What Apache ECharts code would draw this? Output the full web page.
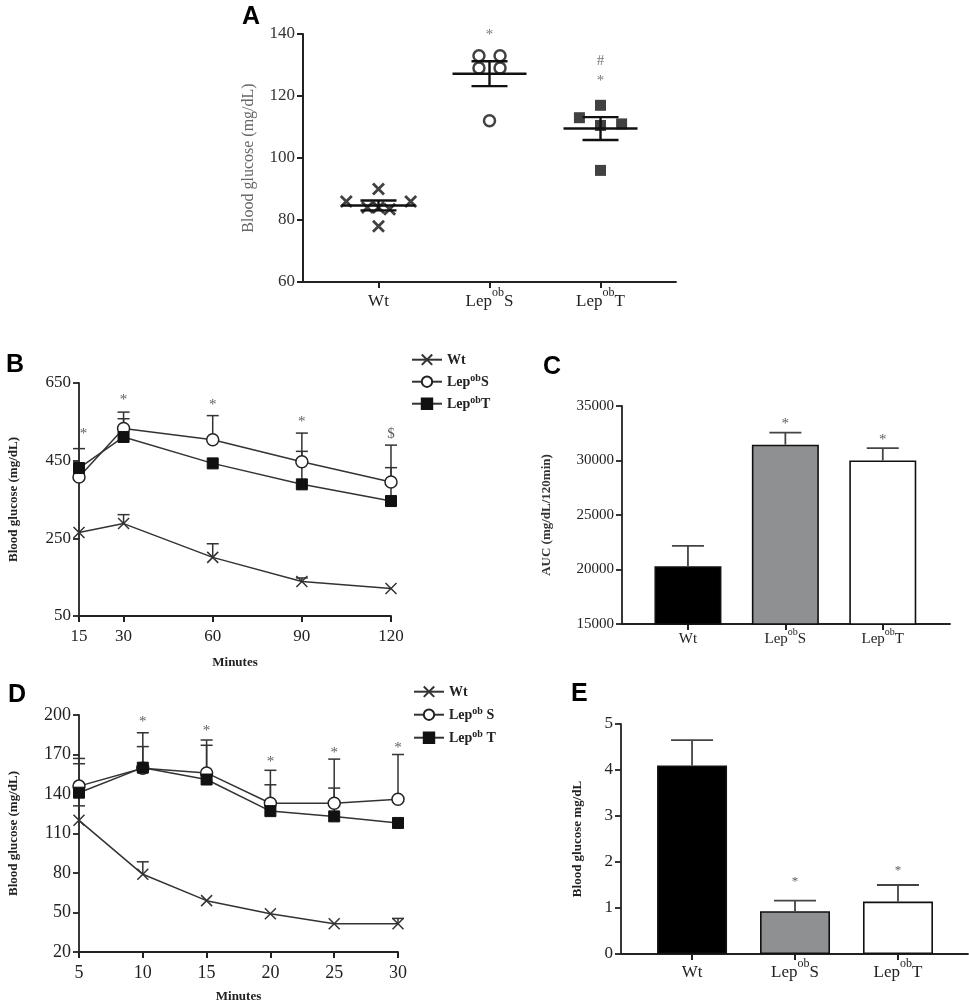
<!DOCTYPE html>
<html>
<head>
<meta charset="utf-8">
<script src="https://cdn.jsdelivr.net/npm/echarts@6/dist/echarts.min.js"></script>
<style>
html,body{margin:0;padding:0;background:#fff;}
#chart{width:969px;height:1008px;}
</style>
</head>
<body>
<div id="chart"></div>
<script>
// ---------- DATA ----------
const groups = ['Wt', 'LepobS', 'LepobT'];
const groupPos = [1, 2, 3];

// Panel A: individual points [x-jitter position, value]
const wtA = [[0.71, 86], [1, 90], [0.9, 84], [1, 84], [1.1, 83.5], [1.29, 86], [1, 78]];
const lepSA = [[1.905, 133], [2.095, 133], [1.905, 129], [2.095, 129], [2, 112]];
const lepTA = [[2.81, 113], [3, 117], [3, 110.5], [3.19, 111], [3, 96]];
const meanA = [84.7, 127.2, 109.5];
const semA = [1.6, 4.0, 3.7];
const marksA = [[2, 140.6, '*'], [3, 132.2, '#'], [3, 125.8, '*']];

// Panel B: glucose tolerance
const minutesB = [15, 30, 60, 90, 120];
const wtB = [265, 288, 201, 139, 121];
const wtBErr = [0, 23, 35, 9, 0];
const lepSB = [408, 533, 504, 447, 395];
const lepSBErr = [0, 42, 62, 74, 95];
const lepTB = [431, 511, 443, 389, 346];
const lepTBErr = [50, 47, 0, 85, 86];
const marksB = [[16.5, 527, '*'], [30, 614, '*'], [60, 601, '*'], [90, 558, '*'], [120, 527, '$']];

// Panel C: AUC
const aucC = [20300, 31450, 30000];
const aucCErr = [1870, 1100, 1130];
const marksC = [[2, 33630, '*'], [3, 32160, '*']];

// Panel D: insulin tolerance
const minutesD = [5, 10, 15, 20, 25, 30];
const wtD = [120, 79, 59, 49, 41.5, 41.5];
const wtDErr = [11, 9.5, 0, 0, 0, 4];
const lepSD = [146, 159.5, 156, 133, 133, 136];
const lepSDErr = [21, 27, 25, 25, 33.5, 34];
const lepTD = [141, 160, 151, 127, 123, 118];
const lepTDErr = [22, 16, 26, 20, 21.5, 0];
const marksD = [[10, 197, '*'], [15, 189.9, '*'], [20, 166.5, '*'], [25, 173.4, '*'], [30, 177, '*']];

// Panel E
const glucE = [4.1, 0.93, 1.14];
const glucEErr = [0.55, 0.23, 0.36];
const marksE = [[2, 1.65, '*'], [3, 1.87, '*']];

// ---------- HELPERS ----------
const SERIF = 'Liberation Serif';
const barColors = ['#000000', '#8e9092', '#ffffff'];
const xSym = 'path://M0,0L10,10M10,0L0,10';

function groupLabel(name, sep) {
  const m = name.match(/^Lep(ob)(.*)$/);
  if (!m) return '{n|' + name + '}';
  return '{n|Lep}{s|ob}{n|' + (sep || '') + m[2] + '}';
}
function richFor(size, color, weight, lh, sh) {
  return {
    n: {fontSize: size, fontFamily: SERIF, color: color, fontWeight: weight || 'normal',
        lineHeight: Math.round(size * (lh || 1.35)), verticalAlign: 'bottom'},
    s: {fontSize: Math.round(size * 0.68), fontFamily: SERIF, color: color, fontWeight: weight || 'normal',
        verticalAlign: 'top', lineHeight: Math.round(size * (sh || 0.9))}
  };
}
const zip = (xs, ys) => xs.map((x, i) => [x, ys[i]]);
const zip3 = (xs, ys, es) => xs.map((x, i) => [x, ys[i], es[i]]);

function errSeries(xi, yi, data, cap, color, width, z) {
  return {
    type: 'custom', xAxisIndex: xi, yAxisIndex: yi, z: z || 1, silent: true, clip: false,
    data: data.filter(d => d[2] > 0),
    renderItem: function (params, api) {
      const x = api.value(0), y = api.value(1), e = api.value(2);
      const p0 = api.coord([x, y]), p1 = api.coord([x, y + e]);
      const st = {stroke: color, lineWidth: width};
      return {type: 'group', children: [
        {type: 'line', shape: {x1: p0[0], y1: p0[1], x2: p1[0], y2: p1[1]}, style: st},
        {type: 'line', shape: {x1: p1[0] - cap, y1: p1[1], x2: p1[0] + cap, y2: p1[1]}, style: st}
      ]};
    }
  };
}
function markSeries(xi, yi, data, size, color, dy) {
  return {
    type: 'scatter', xAxisIndex: xi, yAxisIndex: yi, clip: false, silent: true,
    symbolSize: 1, itemStyle: {color: 'rgba(0,0,0,0)'}, z: 5,
    data: data,
    label: {show: true, position: 'inside', formatter: p => p.data[2],
      fontFamily: SERIF, fontSize: size, color: color, offset: [0, dy || 0]}
  };
}
function valueAxisX(gi, min, max, custom, fmt, size, color, margin, extra) {
  return Object.assign({
    gridIndex: gi, type: 'value', min: min, max: max, splitLine: {show: false},
    axisLine: {show: true, onZero: false, lineStyle: {color: '#222', width: 1.8}},
    axisTick: {show: true, customValues: custom, length: 6, lineStyle: {color: '#222', width: 2}},
    axisLabel: {customValues: custom, formatter: fmt, fontFamily: SERIF, fontSize: size, color: color, margin: margin,
      rich: richFor(size, color)}
  }, extra || {});
}
function valueAxisY(gi, min, max, interval, size, color, name, nameSize, nameColor, nameGap, nameWeight, lw) {
  return {
    gridIndex: gi, type: 'value', min: min, max: max, interval: interval, splitLine: {show: false},
    axisLine: {show: true, onZero: false, lineStyle: {color: '#222', width: lw || 1.8}},
    axisTick: {show: true, length: 6, lineStyle: {color: '#222', width: lw || 1.8}},
    axisLabel: {fontFamily: SERIF, fontSize: size, color: color, margin: 8, formatter: v => String(v)},
    name: name, nameLocation: 'middle', nameGap: nameGap, nameRotate: 90,
    nameTextStyle: {fontFamily: SERIF, fontSize: nameSize, color: nameColor, fontWeight: nameWeight || 'normal'}
  };
}
const catFmt = v => { const i = groupPos.indexOf(v); return i < 0 ? '' : groupLabel(groups[i]); };

// ---------- OPTION ----------
const letterStyle = {fontFamily: 'Liberation Sans', fontWeight: 'bold', fontSize: 25, color: '#000'};
const legendText = {fontFamily: SERIF, fontSize: 14, fontWeight: 'bold', color: '#222',
  rich: richFor(14, '#222', 'bold', 1.15, 0.75)};
const option = {
  animation: false,
  backgroundColor: '#fff',
  title: [
    {text: 'A', left: 237, top: 0, textStyle: letterStyle},
    {text: 'B', left: 1, top: 348, textStyle: letterStyle},
    {text: 'C', left: 538, top: 350, textStyle: letterStyle},
    {text: 'D', left: 3, top: 678, textStyle: letterStyle},
    {text: 'E', left: 566, top: 677, textStyle: letterStyle}
  ],
  grid: [
    {left: 303, top: 34, width: 373, height: 248, outerBoundsMode: 'none'},
    {left: 79, top: 383, width: 312, height: 233, outerBoundsMode: 'none'},
    {left: 622, top: 406, width: 328, height: 218, outerBoundsMode: 'none'},
    {left: 79, top: 715, width: 319, height: 237, outerBoundsMode: 'none'},
    {left: 621, top: 724, width: 347, height: 230, outerBoundsMode: 'none'}
  ],
  xAxis: [
    valueAxisX(0, 0.32, 3.68, groupPos, catFmt, 17, '#222', 5),
    valueAxisX(1, 15, 120, minutesB, v => String(v), 17, '#222', 12,
      {name: 'Minutes', nameLocation: 'middle', nameGap: 40,
       nameTextStyle: {fontFamily: SERIF, fontSize: 13, color: '#222', fontWeight: 'bold'}}),
    valueAxisX(2, 0.323, 3.69, groupPos, catFmt, 15, '#222', 3),
    valueAxisX(3, 5, 30, minutesD, v => String(v), 18, '#222', 12,
      {name: 'Minutes', nameLocation: 'middle', nameGap: 38,
       nameTextStyle: {fontFamily: SERIF, fontSize: 13, color: '#222', fontWeight: 'bold'}}),
    valueAxisX(4, 0.31, 3.68, groupPos, catFmt, 17, '#222', 4)
  ],
  yAxis: [
    valueAxisY(0, 60, 140, 20, 17, '#333', 'Blood glucose (mg/dL)', 16, '#666', 46, 'normal', 2),
    valueAxisY(1, 50, 650, 200, 17, '#222', 'Blood glucose (mg/dL)', 13, '#222', 59, 'bold'),
    valueAxisY(2, 15000, 35000, 5000, 15, '#222', 'AUC (mg/dL/120min)', 13, '#333', 69, 'bold'),
    valueAxisY(3, 20, 200, 30, 18, '#222', 'Blood glucose (mg/dL)', 13, '#222', 59, 'bold'),
    valueAxisY(4, 0, 5, 1, 17, '#222', 'Blood glucose mg/dL', 13, '#222', 37, 'bold')
  ],
  legend: [
    {left: 406, top: 347, orient: 'vertical', itemGap: 6, itemWidth: 30, itemHeight: 13,
     data: ['B:Wt', 'B:LepobS', 'B:LepobT'],
     formatter: n => groupLabel(n.slice(2)), textStyle: legendText},
    {left: 408, top: 679, orient: 'vertical', itemGap: 7, itemWidth: 30, itemHeight: 13,
     data: ['D:Wt', 'D:LepobS', 'D:LepobT'],
     formatter: n => groupLabel(n.slice(2), ' '), textStyle: legendText}
  ],
  series: [
    // ---- A ----
    {type: 'scatter', xAxisIndex: 0, yAxisIndex: 0, data: wtA, symbol: xSym, symbolSize: 11,
     itemStyle: {color: 'none', borderColor: '#111', borderWidth: 2.8}, z: 3},
    {type: 'scatter', xAxisIndex: 0, yAxisIndex: 0, data: lepSA, symbol: 'circle', symbolSize: 11,
     itemStyle: {color: '#fff', borderColor: '#111', borderWidth: 2.5}, z: 3},
    {type: 'scatter', xAxisIndex: 0, yAxisIndex: 0, data: lepTA, symbol: 'rect', symbolSize: 11,
     itemStyle: {color: '#111'}, z: 3},
    {type: 'custom', xAxisIndex: 0, yAxisIndex: 0, z: 4, silent: true,
     data: zip3(groupPos, meanA, semA),
     renderItem: function (params, api) {
       const x = api.value(0), m = api.value(1), s = api.value(2);
       const pm = api.coord([x, m]), pt = api.coord([x, m + s]), pb = api.coord([x, m - s]);
       const st = {stroke: '#111', lineWidth: 2.4};
       return {type: 'group', children: [
         {type: 'line', shape: {x1: pm[0] - 37, y1: pm[1], x2: pm[0] + 37, y2: pm[1]}, style: st},
         {type: 'line', shape: {x1: pt[0], y1: pt[1], x2: pb[0], y2: pb[1]}, style: st},
         {type: 'line', shape: {x1: pt[0] - 18, y1: pt[1], x2: pt[0] + 18, y2: pt[1]}, style: st},
         {type: 'line', shape: {x1: pb[0] - 18, y1: pb[1], x2: pb[0] + 18, y2: pb[1]}, style: st}
       ]};
     }},
    markSeries(0, 0, marksA, 15, '#555', 3),

    // ---- B ----
    errSeries(1, 1, zip3(minutesB, wtB, wtBErr), 6, '#333', 1.5, 1),
    errSeries(1, 1, zip3(minutesB, lepSB, lepSBErr), 6, '#333', 1.5, 1),
    errSeries(1, 1, zip3(minutesB, lepTB, lepTBErr), 6, '#333', 1.5, 1),
    {name: 'B:Wt', type: 'line', xAxisIndex: 1, yAxisIndex: 1, data: zip(minutesB, wtB),
     symbol: xSym, symbolSize: 11, z: 3,
     lineStyle: {color: '#333', width: 1.5},
     itemStyle: {color: 'none', borderColor: '#333', borderWidth: 1.5}},
    {name: 'B:LepobS', type: 'line', xAxisIndex: 1, yAxisIndex: 1, data: zip(minutesB, lepSB),
     symbol: 'circle', symbolSize: 12, z: 3,
     lineStyle: {color: '#333', width: 1.5},
     itemStyle: {color: '#fff', borderColor: '#222', borderWidth: 1.5}},
    {name: 'B:LepobT', type: 'line', xAxisIndex: 1, yAxisIndex: 1, data: zip(minutesB, lepTB),
     symbol: 'rect', symbolSize: 11, z: 3,
     lineStyle: {color: '#333', width: 1.5},
     itemStyle: {color: '#111', borderColor: '#111', borderWidth: 1}},
    markSeries(1, 1, marksB, 15, '#333', 3),

    // ---- C ----
    {type: 'bar', xAxisIndex: 2, yAxisIndex: 2, barWidth: 67, z: 2,
     data: aucC.map((v, i) => ({value: [groupPos[i], v], itemStyle: {color: barColors[i], borderColor: '#111', borderWidth: 1.6}}))},
    errSeries(2, 2, zip3(groupPos, aucC, aucCErr), 16, '#444', 1.8, 3),
    markSeries(2, 2, marksC, 15, '#333', 3),

    // ---- D ----
    errSeries(3, 3, zip3(minutesD, wtD, wtDErr), 6, '#333', 1.5, 1),
    errSeries(3, 3, zip3(minutesD, lepSD, lepSDErr), 6, '#333', 1.5, 1),
    errSeries(3, 3, zip3(minutesD, lepTD, lepTDErr), 6, '#333', 1.5, 1),
    {name: 'D:Wt', type: 'line', xAxisIndex: 3, yAxisIndex: 3, data: zip(minutesD, wtD),
     symbol: xSym, symbolSize: 11, z: 3,
     lineStyle: {color: '#333', width: 1.5},
     itemStyle: {color: 'none', borderColor: '#333', borderWidth: 1.5}},
    {name: 'D:LepobS', type: 'line', xAxisIndex: 3, yAxisIndex: 3, data: zip(minutesD, lepSD),
     symbol: 'circle', symbolSize: 12, z: 3,
     lineStyle: {color: '#333', width: 1.5},
     itemStyle: {color: '#fff', borderColor: '#222', borderWidth: 1.5}},
    {name: 'D:LepobT', type: 'line', xAxisIndex: 3, yAxisIndex: 3, data: zip(minutesD, lepTD),
     symbol: 'rect', symbolSize: 11, z: 3,
     lineStyle: {color: '#333', width: 1.5},
     itemStyle: {color: '#111', borderColor: '#111', borderWidth: 1}},
    markSeries(3, 3, marksD, 15, '#333', 3),

    // ---- E ----
    {type: 'bar', xAxisIndex: 4, yAxisIndex: 4, barWidth: 70, z: 2,
     data: glucE.map((v, i) => ({value: [groupPos[i], v], itemStyle: {color: barColors[i], borderColor: '#111', borderWidth: 1.6}}))},
    errSeries(4, 4, zip3(groupPos, glucE, glucEErr), 21, '#444', 1.8, 3),
    markSeries(4, 4, marksE, 13, '#333', 3)
  ]
};

const chart = echarts.init(document.getElementById('chart'), null, {renderer: 'canvas'});
chart.setOption(option);
</script>
</body>
</html>
